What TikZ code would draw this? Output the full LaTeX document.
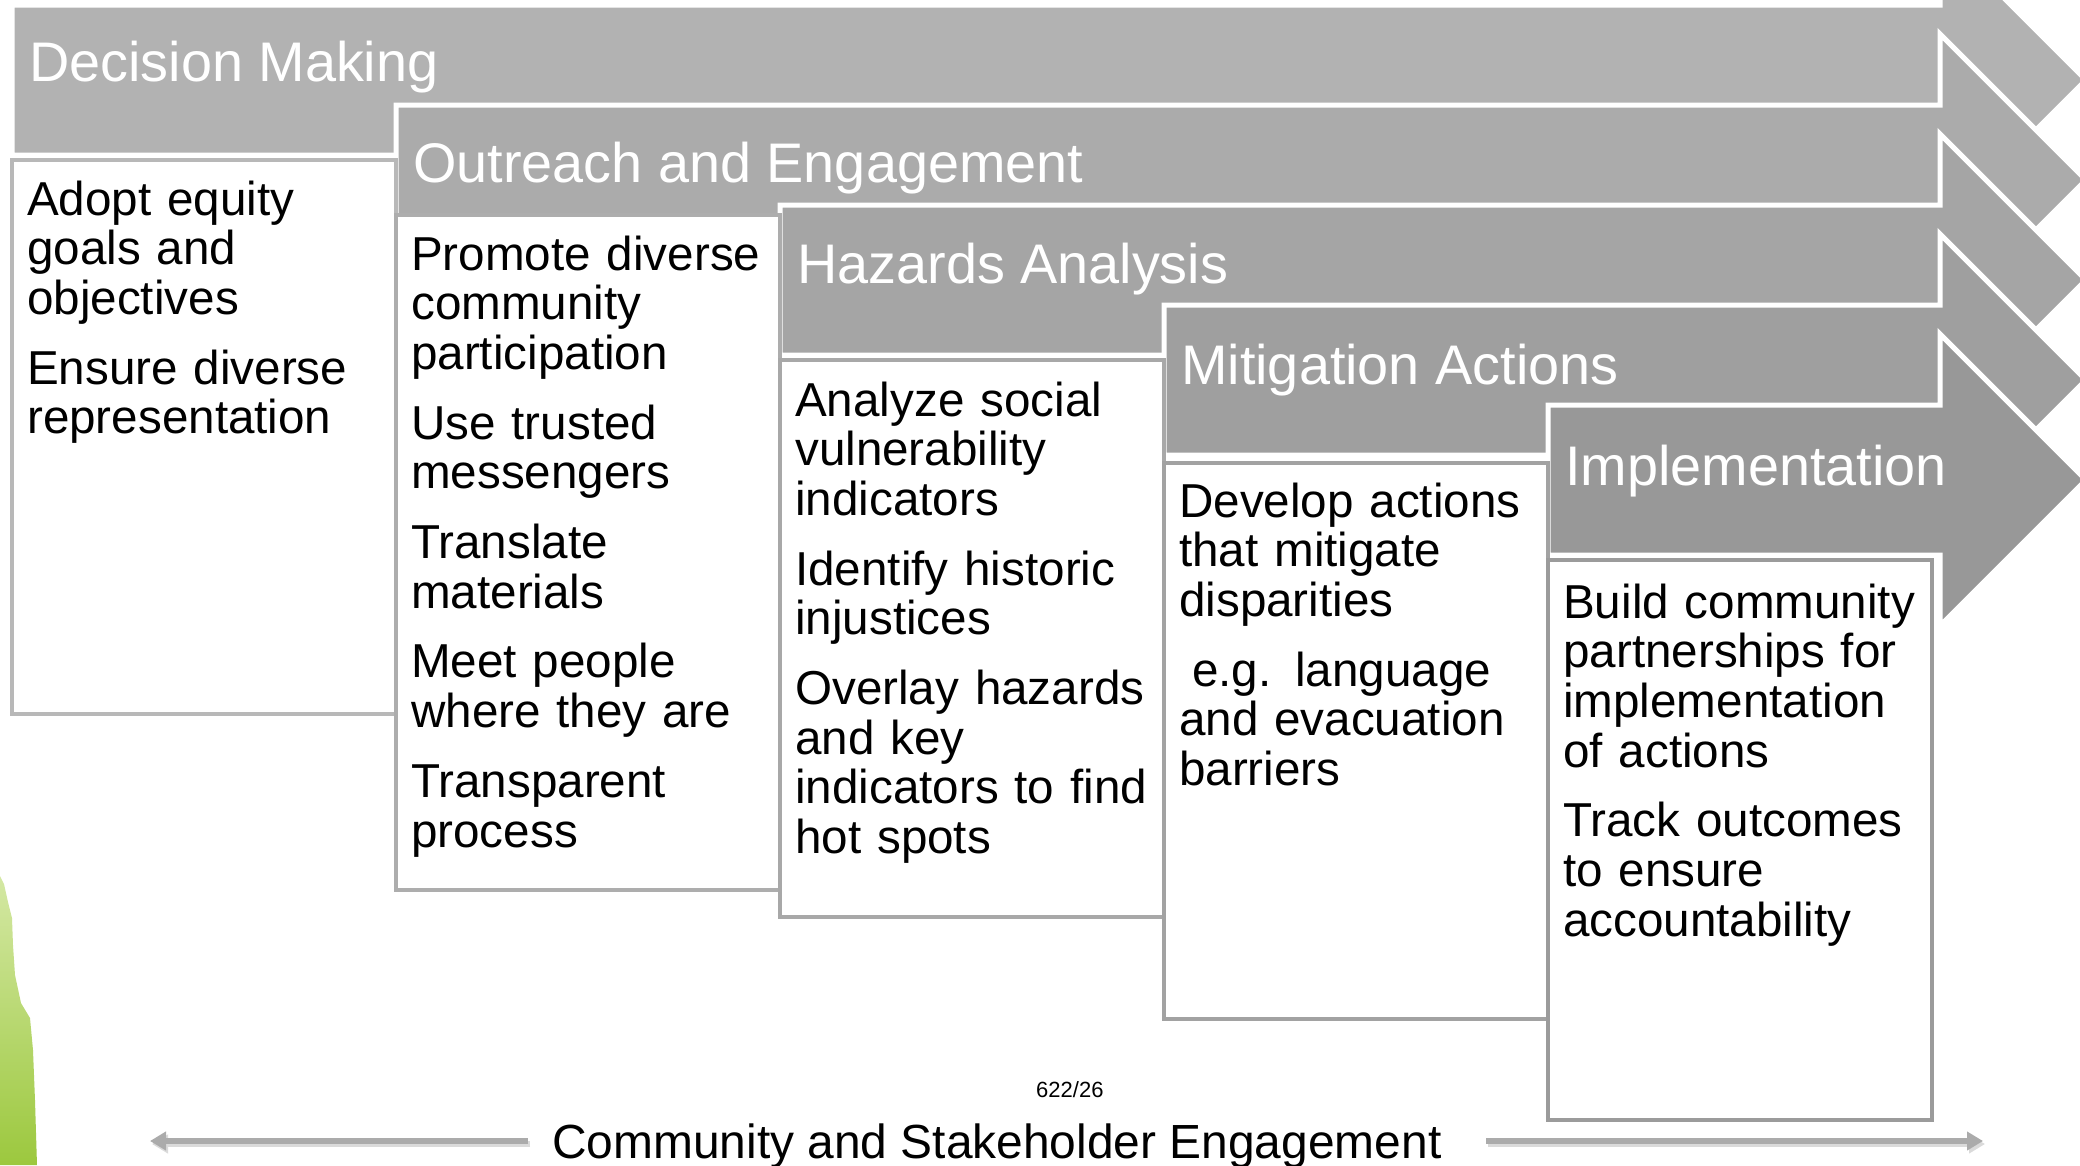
\documentclass[tikz,border=0pt]{standalone}
\usepackage{fontspec}
\setmainfont{Liberation Sans}
\usetikzlibrary{arrows.meta}
\definecolor{arrA}{HTML}{B2B2B2}
\definecolor{arrB}{HTML}{ABABAB}
\definecolor{arrC}{HTML}{A5A5A5}
\definecolor{arrD}{HTML}{9F9F9F}
\definecolor{arrE}{HTML}{989898}
\definecolor{boxA}{HTML}{B8B8B8}
\definecolor{boxB}{HTML}{ADADAD}
\definecolor{boxC}{HTML}{A8A8A8}
\definecolor{boxD}{HTML}{A2A2A2}
\definecolor{boxE}{HTML}{9B9B9B}
\definecolor{leafA}{HTML}{D4E8A4}
\definecolor{leafB}{HTML}{9CC83E}
\definecolor{engline}{HTML}{ABABAB}
\definecolor{engshadow}{HTML}{DADADA}
\newcommand\ttlfont{\fontsize{55.8}{60}\selectfont}
\newcommand\bdyfont{\fontsize{47.6}{49.7}\selectfont}
\newcommand\engfont{\fontsize{47.9}{50}\selectfont}
\begin{document}
\begin{tikzpicture}[x=1pt,y=-1pt,
  arrowbody/.style={draw=white, line width=5pt, line join=miter},
  boxstyle/.style={fill=white, line width=4pt},
  title/.style={text=white, font=\ttlfont, anchor=base west, inner sep=0pt},
  body/.style={font=\bdyfont, anchor=base west, inner sep=0pt, text width=370pt, align=left},
  engarrow/.style={engline, line width=6pt, -{Triangle[length=16pt,width=18pt]}},
  engshade/.style={engshadow, line width=6pt, -{Triangle[length=16pt,width=18pt]}}
]
\useasboundingbox (0,0) rectangle (2080,1165);
\fill[white] (0,0) rectangle (2080,1165);
\begin{scope}
\clip (0,0) rectangle (2080,1165);
% green leaf at the left edge
\shade[top color=leafA, bottom color=leafB]
  (0,876) -- (4,884) -- (8,902) -- (12,918) -- (13,945) -- (15,975) -- (21,1003)
  -- (30,1018) -- (33,1050) -- (35,1100) -- (37,1165) -- (0,1165) -- cycle;
% block arrows
\foreach \xl/\c/\col in {12/80/arrA,396/180/arrB,780/280/arrC,1164/380/arrD,1548/480/arrE}{
  \filldraw[arrowbody, fill=\col]
    (\xl,\c-75) -- (1940,\c-75) -- (1940,\c-146) -- (2086,\c)
    -- (1940,\c+146) -- (1940,\c+75) -- (\xl,\c+75) -- cycle;
}
\end{scope}
% boxes
\draw[boxstyle, draw=boxA] (12,160) rectangle (396,714);
\draw[boxstyle, draw=boxB] (396,215) rectangle (780,890);
\draw[boxstyle, draw=boxC] (780,360) rectangle (1164,917);
\draw[boxstyle, draw=boxD] (1164,463) rectangle (1548,1019);
\draw[boxstyle, draw=boxE] (1548,560) rectangle (1932,1120);
% titles
\node[title] (t1) at (29,81) {Decision Making};
\node[title] (t2) at (413,182) {Outreach and Engagement};
\node[title] (t3) at (797,283) {Hazards Analysis};
\node[title] (t4) at (1181,384) {Mitigation Actions};
\node[title] (t5) at (1565,485) {Implementation};
% body texts
\node[body] (b1) at (27,215) {Adopt equity\\goals and\\objectives\\[20pt]Ensure diverse\\representation};
\node[body] (b2) at (411,270) {Promote diverse\\community\\participation\\[20pt]Use trusted\\messengers\\[20pt]Translate\\materials\\[20pt]Meet people\\where they are\\[20pt]Transparent\\process};
\node[body] (b3) at (795,416) {Analyze social\\vulnerability\\indicators\\[20pt]Identify historic\\injustices\\[20pt]Overlay hazards\\and key\\indicators to find\\hot spots};
\node[body] (b4) at (1179,517) {Develop actions\\that mitigate\\disparities\\[20pt]\hspace*{13pt}e.g. language\\and evacuation\\barriers};
\node[body] (b5) at (1563,618) {Build community\\partnerships for\\implementation\\of actions\\[20pt]Track outcomes\\to ensure\\accountability};
% footer
\node[font=\fontsize{22}{26}\selectfont, anchor=base west, inner sep=0pt] (pg) at (1036,1097) {622/26};
\node[font=\engfont, anchor=base west, inner sep=0pt] (eng) at (552,1158) {Community and Stakeholder Engagement};
\coordinate (ls) at (528,1141);
\coordinate (lt) at (150,1141);
\coordinate (rs) at (1486,1141);
\coordinate (rt) at (1983,1141);
\coordinate (lss) at (530,1144);
\coordinate (lts) at (152,1144);
\coordinate (rss) at (1488,1144);
\coordinate (rts) at (1985,1144);
\draw[engshade] (lss) -- (lts);
\draw[engshade] (rss) -- (rts);
\draw[engarrow] (ls) -- (lt);
\draw[engarrow] (rs) -- (rt);
\end{tikzpicture}
\end{document}
